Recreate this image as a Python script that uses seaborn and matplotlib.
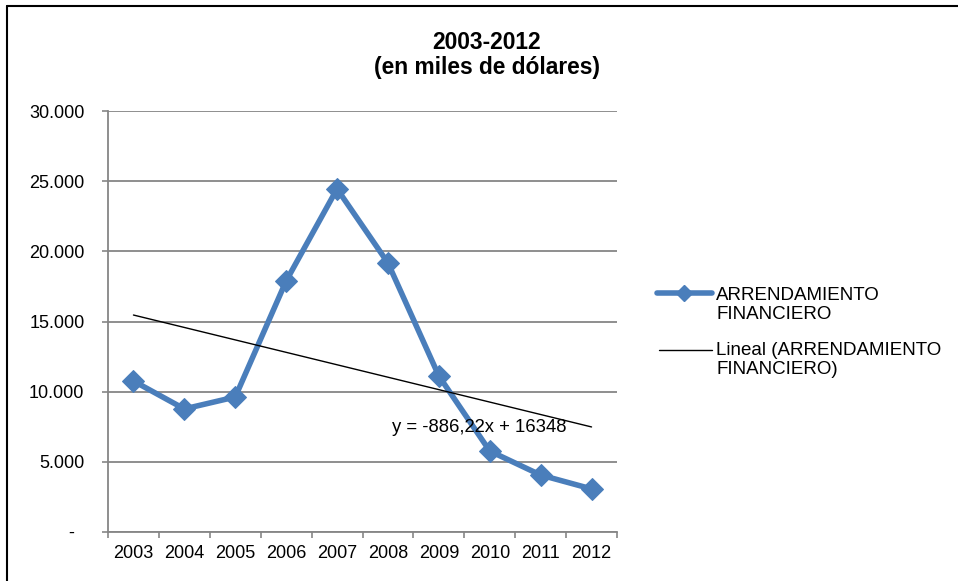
import numpy as np
import pandas as pd
import matplotlib.pyplot as plt
from matplotlib.lines import Line2D
from matplotlib.ticker import FuncFormatter, FixedLocator
import seaborn as sns

# datos (miles de dolares)
years = ['2003', '2004', '2005', '2006', '2007', '2008', '2009', '2010', '2011', '2012']
arrendamiento = [10760, 8770, 9620, 17890, 24450, 19170, 11120, 5770, 4060, 3070]
trend_slope = -886.22
trend_intercept = 16348
yticks = [0, 5000, 10000, 15000, 20000, 25000, 30000]

title = '2003-2012\n(en miles de dólares)'
serie_label = 'ARRENDAMIENTO\nFINANCIERO'
trend_label = 'Lineal (ARRENDAMIENTO\nFINANCIERO)'
eq_label = 'y = -886,22x + 16348'

blue = '#4A7EBB'
grey = '#868686'

sns.set_theme(style='white')
plt.rcParams['font.family'] = ['Liberation Sans', 'DejaVu Sans']

W, H = 958, 581
fig = plt.figure(figsize=(W / 100, H / 100), dpi=100)
ax = fig.add_axes([108 / W, 1 - 532 / H, (617 - 108) / W, (532 - 111) / H])

df = pd.DataFrame({'pos': np.arange(len(years)), 'valor': arrendamiento})
df['trend'] = trend_slope * (df['pos'] + 1) + trend_intercept

sns.lineplot(data=df, x='pos', y='valor', ax=ax, color=blue, lw=4,
             marker='D', markersize=11, markeredgecolor=blue, zorder=3)
sns.lineplot(data=df, x='pos', y='trend', ax=ax, color='black', lw=1, zorder=4)

ax.set_xlim(-0.5, len(years) - 0.5)
ax.set_ylim(0, 30000)
ax.set_xlabel('')
ax.set_ylabel('')

# eje y
ax.set_yticks(yticks)
ax.yaxis.set_major_formatter(FuncFormatter(
    lambda v, p: '-  ' if v == 0 else f'{v:,.0f}'.replace(',', '.')))
ax.yaxis.grid(True, color=grey, lw=1.3)
ax.set_axisbelow(True)

# eje x: etiquetas centradas, marcas entre categorias
ax.set_xticks(df['pos'])
ax.set_xticklabels(years)
ax.xaxis.set_minor_locator(FixedLocator(np.arange(-0.5, len(years), 1)))
ax.tick_params(axis='x', which='major', length=0, pad=9, labelsize=13, colors='black')
ax.tick_params(axis='x', which='minor', length=4, width=1.2, color=grey, bottom=True)
ax.tick_params(axis='y', which='major', length=4, width=1.2, color=grey, left=True,
               pad=13, labelsize=13, labelcolor='black')

for s in ['top', 'right']:
    ax.spines[s].set_visible(False)
for s in ['left', 'bottom']:
    ax.spines[s].set_color(grey)
    ax.spines[s].set_linewidth(1.3)

ax.text(6.79, 7480, eq_label, ha='center', va='center', fontsize=13.3, color='black')

fig.text(487 / W, 1 - 55 / H, title, ha='center', va='center',
         fontsize=16.4, weight='bold', color='black', linespacing=1.1)

# leyenda
fig.add_artist(Line2D([657 / W, 712 / W], [1 - 293 / H, 1 - 293 / H], color=blue, lw=4,
                      transform=fig.transFigure))
fig.add_artist(Line2D([684 / W], [1 - 293 / H], color=blue, marker='D', markersize=8,
                      transform=fig.transFigure))
fig.text(716 / W, 1 - 305 / H, serie_label, ha='left', va='center', fontsize=13.5,
         color='black', linespacing=1.12)
fig.add_artist(Line2D([659 / W, 712 / W], [1 - 350 / H, 1 - 350 / H], color='black', lw=1,
                      transform=fig.transFigure))
fig.text(716 / W, 1 - 360 / H, trend_label, ha='left', va='center', fontsize=13.5,
         color='black', linespacing=1.12)

# marco del grafico (recortado a la derecha y abajo)
fig.add_artist(Line2D([7 / W, 7 / W], [0, 1 - 6 / H], color='black', lw=1.5,
                      transform=fig.transFigure))
fig.add_artist(Line2D([7 / W, 1], [1 - 6 / H, 1 - 6 / H], color='black', lw=1.5,
                      transform=fig.transFigure))

fig.savefig('out.png', dpi=100)
